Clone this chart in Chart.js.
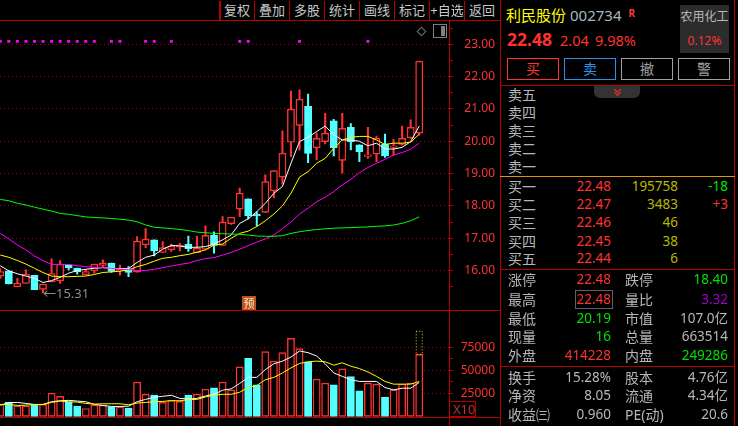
<!DOCTYPE html>
<html><head><meta charset="utf-8">
<style>
html,body{margin:0;padding:0;background:#000;width:738px;height:426px;overflow:hidden;font-family:"Noto Sans","Noto Sans CJK SC",sans-serif}
canvas{position:absolute;display:block}
.t{position:absolute;white-space:nowrap;transform:translateY(-50%);line-height:1}
.b{position:absolute}
</style></head><body>
<canvas id="price" style="left:-4px;top:21px;width:499px;height:289px" width="499" height="289"></canvas>
<canvas id="vol" style="left:-4px;top:311px;width:499px;height:106px" width="499" height="106"></canvas>
<div id="ui"></div>
<script src="https://cdn.jsdelivr.net/npm/chart.js@4/dist/chart.umd.min.js"></script>
<script>
const categories=[1,2,3,4,5,6,7,8,9,10,11,12,13,14,15,16,17,18,19,20,21,22,23,24,25,26,27,28,29,30,31,32,33,34,35,36,37,38,39,40,41,42,43,44,45,46,47,48,49,50,51,52,53];
const opens=[15.83,15.99,15.50,15.60,15.85,15.42,15.65,15.68,16.18,16.08,15.87,15.99,16.16,16.23,15.99,16.04,15.95,16.80,16.95,16.56,16.64,16.72,16.81,16.55,16.66,17.10,16.78,17.45,17.90,18.22,17.70,17.80,18.47,18.89,19.97,20.49,21.08,19.80,19.99,20.63,19.41,20.43,19.89,19.53,19.60,19.92,19.81,19.90,20.11,20.25];
const closes=[15.97,15.59,15.61,15.89,15.41,15.58,15.91,16.20,16.08,15.96,15.97,16.20,16.23,15.97,16.02,15.94,16.91,16.97,16.61,16.71,16.76,16.79,16.68,16.69,17.09,16.78,17.50,17.65,18.39,17.70,17.69,18.75,19.09,19.63,20.99,21.30,19.62,20.09,20.25,19.80,20.40,19.99,19.68,19.57,20.09,19.55,19.85,20.09,20.43,22.48];
const highs=[16.05,15.99,15.76,16.02,15.85,15.58,16.36,16.31,16.18,16.08,16.04,16.20,16.33,16.23,16.17,16.12,17.05,17.30,16.95,16.90,16.82,16.84,17.07,17.07,17.38,17.20,17.67,17.65,18.55,18.22,17.82,18.96,19.09,20.32,21.55,21.59,21.46,20.25,20.86,20.68,20.86,20.55,19.89,20.43,20.16,20.22,20.06,20.47,20.66,22.48];
const lows=[15.76,15.59,15.50,15.60,15.41,15.31,15.65,15.60,16.02,15.89,15.87,15.92,16.10,15.94,15.86,15.81,15.95,16.71,16.45,16.56,16.59,16.61,16.59,16.55,16.64,16.54,16.78,17.43,17.67,17.60,17.38,17.80,18.25,18.68,19.52,19.73,19.34,19.42,19.92,19.55,19.01,19.73,19.37,19.47,19.37,19.50,19.57,19.88,20.09,20.19];
const ma5=[16.15,15.99,15.90,15.83,15.76,15.63,15.69,15.79,15.92,16.00,16.04,16.07,16.09,16.07,16.06,16.06,16.25,16.41,16.48,16.66,16.78,16.76,16.72,16.72,16.74,16.82,16.95,17.10,17.46,17.60,17.82,18.08,18.39,18.60,19.32,19.99,20.12,20.30,20.47,20.20,20.04,20.04,20.00,19.86,19.94,19.76,19.76,19.81,19.99,20.47];
const ma10=[16.48,16.41,16.31,16.20,16.07,15.94,15.83,15.81,15.81,15.82,15.83,15.88,15.94,15.96,15.98,16.02,16.12,16.19,16.29,16.38,16.41,16.46,16.50,16.57,16.64,16.79,16.82,17.00,17.15,17.22,17.36,17.54,17.75,18.00,18.39,18.89,19.06,19.32,19.47,19.78,20.04,20.12,20.15,20.15,20.04,19.90,19.94,19.94,19.97,20.22];
const ma20=[17.15,16.98,16.79,16.64,16.45,16.31,16.19,16.19,16.19,16.15,16.12,16.10,16.09,16.07,16.04,16.03,16.00,16.00,16.04,16.09,16.14,16.19,16.23,16.31,16.37,16.40,16.48,16.56,16.66,16.77,16.88,16.98,17.10,17.30,17.50,17.75,17.93,18.13,18.27,18.44,18.65,18.82,19.03,19.19,19.32,19.44,19.58,19.65,19.75,19.94];
const ma60=[18.20,18.16,18.08,18.03,17.96,17.90,17.84,17.77,17.74,17.70,17.66,17.64,17.63,17.61,17.59,17.56,17.51,17.41,17.34,17.32,17.30,17.27,17.24,17.19,17.17,17.15,17.14,17.13,17.12,17.10,17.07,17.06,17.06,17.08,17.15,17.20,17.24,17.27,17.29,17.31,17.32,17.33,17.34,17.35,17.37,17.38,17.41,17.46,17.54,17.66];
const signalFlags=[1,1,1,1,1,1,1,1,1,1,1,1,0,1,1,0,0,1,1,0,1,0,0,0,0,0,0,0,1,1,0,0,0,0,0,1,0,0,0,0,0,0,0,1];
const signalLevel=23.09;
const volumes=[12880,15090,11400,11400,12880,12880,25000,21700,15090,11040,8460,12140,12140,10300,10300,8830,37170,23920,23180,15090,17300,16190,23180,23920,29440,30900,37170,28700,53730,62930,34220,70290,59980,69180,84640,73600,59250,40480,36060,34220,51520,43060,27600,36060,34960,20980,28700,34960,36060,67340];
const volMa5=[12140,14720,15090,13980,12880,12880,15820,16930,17300,16560,15820,12880,11780,10670,10670,11040,15820,18400,20610,21710,22820,19500,18770,19500,22080,23920,28340,29810,35700,42320,42320,50780,57040,59980,64400,71020,69180,65500,57040,47100,43420,39740,37900,37900,37900,31280,28700,30540,30540,36800];
const volMa10=[12880,12880,11780,12140,12880,12880,15090,16560,15820,15460,13980,13250,13620,13620,13620,12510,14350,15090,15820,16190,16930,16930,18030,18400,20980,23180,23920,23920,26130,31280,33490,39740,42320,47100,52620,57410,59250,59980,59250,55570,58140,54460,51890,48210,43420,37900,34960,34960,34960,37900];
const forecastVolume=92370;
const priceTicks=[15.5,16,16.5,17,17.5,18,18.5,19,19.5,20,20.5,21,21.5,22,22.5,23,23.5];
const volumeTicks=[25000,37500,50000,62500,75000];
const volumeLabels=[25000,50000,75000];

const RED='#ff3232',CYAN='#54ffff',LINE='#b40000';
const isUp=i=>closes[i]>=opens[i];
const colr=c=>c.dataIndex<opens.length&&isUp(c.dataIndex)?RED:CYAN;
const lineDs=(data,color,w)=>({type:'line',data,borderColor:color,borderWidth:w||1,pointRadius:0,tension:0,order:1,spanGaps:true});
const fixAxis=(w)=>s=>{s.width=w;s.paddingTop=0;s.paddingBottom=0;};
Chart.defaults.animation=false;
const base={responsive:false,maintainAspectRatio:false,devicePixelRatio:1,layout:{padding:0,autoPadding:false},
  plugins:{legend:{display:false},tooltip:{enabled:false}},events:[]};

new Chart(document.getElementById('price'),{
  type:'bar',
  data:{labels:categories,datasets:[
    {data:highs.map((h,i)=>[lows[i],h]),backgroundColor:colr,borderWidth:0,barThickness:1.4,grouped:false,order:3},
    {data:opens.map((o,i)=>[o,closes[i]]),backgroundColor:c=>isUp(c.dataIndex)?'#000':CYAN,borderColor:colr,borderWidth:1.4,borderSkipped:false,barThickness:7.2,minBarLength:1.6,grouped:false,order:2},
    lineDs(ma60,'#00ff00'),lineDs(ma20,'#ff00ff'),lineDs(ma10,'#ffff00'),lineDs(ma5,'#ffffff'),
    {type:'line',data:signalFlags.map(f=>f?signalLevel:null),showLine:false,pointStyle:'rect',pointRadius:2.1,pointBackgroundColor:'#ff00ff',pointBorderWidth:0,order:0}
  ]},
  options:{...base,scales:{
    x:{display:false,offset:true,grid:{display:false}},
    y:{position:'right',min:14.78,max:23.72,
      afterFit:fixAxis(45.85),
      afterBuildTicks:s=>{s.ticks=priceTicks.map(v=>({value:v}));},
      border:{display:false,dash:[1,3]},
      grid:{color:c=>c.tick&&c.tick.value%1===0?'#a80000':'rgba(0,0,0,0)',tickColor:LINE,tickLength:4,lineWidth:1},
      ticks:{autoSkip:false,padding:8,crossAlign:'far',color:RED,font:{family:'"Noto Sans"',size:12},callback:v=>v%1===0?v.toFixed(2):''}
    }
  }}
});

const forecastBox={id:'forecastBox',afterDatasetsDraw(ch){
  const x=ch.scales.x.getPixelForValue(49),y=ch.scales.y,ctx=ch.ctx;
  ctx.save();ctx.strokeStyle='#e0e000';ctx.lineWidth=1;ctx.setLineDash([1,2]);
  ctx.strokeRect(x-3,y.getPixelForValue(forecastVolume),6,y.getPixelForValue(volumes[49])-y.getPixelForValue(forecastVolume));
  ctx.restore();
}};
new Chart(document.getElementById('vol'),{
  type:'bar',
  data:{labels:categories,datasets:[
    {data:volumes,backgroundColor:c=>isUp(c.dataIndex)?'#000':CYAN,borderColor:colr,borderWidth:1.4,borderSkipped:false,barThickness:7.2,grouped:false,order:2},
    lineDs(volMa10,'#ffff00'),lineDs(volMa5,'#ffffff')
  ]},
  plugins:[forecastBox],
  options:{...base,scales:{
    x:{display:false,offset:true,grid:{display:false}},
    y:{position:'right',min:-760,max:114450,
      afterFit:fixAxis(45.85),
      afterBuildTicks:s=>{s.ticks=volumeTicks.map(v=>({value:v}));},
      border:{display:false,dash:[1,3]},
      grid:{color:c=>c.tick&&volumeLabels.includes(c.tick.value)?'#a80000':'rgba(0,0,0,0)',tickColor:LINE,tickLength:4,lineWidth:1},
      ticks:{autoSkip:false,padding:4,crossAlign:'far',color:RED,font:{family:'"Noto Sans"',size:12},callback:v=>volumeLabels.includes(v)?String(v):''}
    }
  }}
});

/* ---- surrounding interface ---- */
const ui=document.getElementById('ui');
function box(x,y,w,h,css){const d=document.createElement('div');d.className='b';d.style.cssText=`left:${x}px;top:${y}px;width:${w}px;height:${h}px;${css||''}`;ui.appendChild(d);return d;}
function txt(s,x,y,color,size,opt){opt=opt||{};const d=document.createElement('div');d.className='t';d.textContent=s;
  let css=`top:${y}px;color:${color};font-size:${size}px;`;
  if(opt.right!==undefined)css+=`right:${738-opt.right}px;`;else if(opt.center)css+=`left:${x}px;transform:translate(-50%,-50%);`;else css+=`left:${x}px;`;
  if(opt.bold)css+='font-weight:700;';
  d.style.cssText=css;ui.appendChild(d);return d;}
const L=LINE,G='#b4b8bc',Y='#b8b800',GR='#00e000';
box(0,20,500,1.4,`background:${L}`);box(0,310,500,1,`background:${L}`);box(0,417,500,1,`background:${L}`);
box(449,20,1,406,`background:${L}`);box(219.4,1,1.6,19,`background:${L}`);
box(449,400.5,27,16,`border:1px solid ${L};border-left:0;box-sizing:border-box`);
txt('X10',453,408.5,'#c03030',13);
['复权','叠加','多股','统计','画线','标记','+自选','返回'].forEach((s,i)=>{
  txt(s,237+35*i,10,'#c4c8c8',13,{center:true});
  if(i<7)box(254.3+35*i,1,1,19,`background:${L}`);
});
box(418,28,7,7,'border:1px solid #707070;transform:rotate(45deg);box-sizing:border-box');
box(433,24,14,14,'border:1px solid #808080;box-sizing:border-box');box(441,26,4,10,'background:#808080');
txt('←15.31',43,293,'#8c8c8c',13);
box(242,296,14,14,'background:#b9541c');
txt('预',249,303,'#ffe4c8',11,{center:true});
/* right panel */
box(500,0,1,426,`background:${L}`);box(734,0,1,426,`background:${L}`);
box(500,85,235,1,`background:${L}`);box(500,176,235,1,'background:#e09400');box(500,269,235,1,`background:${L}`);box(500,366,235,1,`background:${L}`);
txt('利民股份',506,15,'#ffff00',15);
txt('002734',570,15,'#a8b8c0',15);
txt('R',628.5,13,'#ff3c3c',10,{bold:true});
txt('22.48',507,39.5,RED,17.5,{bold:true});
txt('2.04',560,40,RED,14.5);txt('9.98%',595,40,RED,14.5);
box(680,5,49,48,'background:#2c2c2c');
txt('农用化工',704.5,17,'#b8b8b8',12,{center:true});
txt('0.12%',704.5,41,RED,12,{center:true});
[['买',507,RED],['卖',564,'#3090e8'],['撤',621,'#a0a0a0'],['警',678,'#a0a0a0']].forEach(([s,x,c])=>{
  box(x,58,52,22,`border:1px solid ${c};box-sizing:border-box`);
  txt(s,x+26,69,c,14,{center:true});
});
box(594,86,46,12,'background:#333;border-radius:0 0 6px 6px');
box(614.5,86.5,4,4,`border-right:1px solid ${RED};border-bottom:1px solid ${RED};transform:rotate(45deg)`);
box(614.5,89.5,4,4,`border-right:1px solid ${RED};border-bottom:1px solid ${RED};transform:rotate(45deg)`);
['卖五','卖四','卖三','卖二','卖一'].forEach((s,i)=>txt(s,508,[95,113,131,149,167][i],G,14));
const buy=[['买一','22.48','195758','-18',GR],['买二','22.47','3483','+3',RED],['买三','22.46','46'],['买四','22.45','38'],['买五','22.44','6']];
buy.forEach((r,i)=>{const y=[187,205,223,241.5,259][i];
  txt(r[0],508,y,G,14);txt(r[1],0,y,RED,13.5,{right:611});txt(r[2],0,y,Y,13.5,{right:678});
  if(r[3])txt(r[3],0,y,r[4],13.5,{right:728});});
box(575,290,38,19,'border:1px solid #606060;box-sizing:border-box');
const rows=[[280,'涨停','22.48',RED,'跌停','18.40',GR],[299.5,'最高','22.48',RED,'量比','3.32','#a000c8'],[318.5,'最低','20.19',GR,'市值','107.0亿',G],
[337,'现量','16',GR,'总量','663514',G],[355.5,'外盘','414228',RED,'内盘','249286',GR],[377.5,'换手','15.28%',G,'股本','4.76亿',G],[396,'净资','8.05',G,'流通','4.34亿',G],[415,'收益㈢','0.960',G,'PE(动)','20.6',G]];
rows.forEach(r=>{txt(r[1],508,r[0],G,14);txt(r[2],0,r[0],r[3],13.5,{right:611});txt(r[4],625,r[0],G,14);txt(r[5],0,r[0],r[6],13.5,{right:728});});
</script>
</body></html>
